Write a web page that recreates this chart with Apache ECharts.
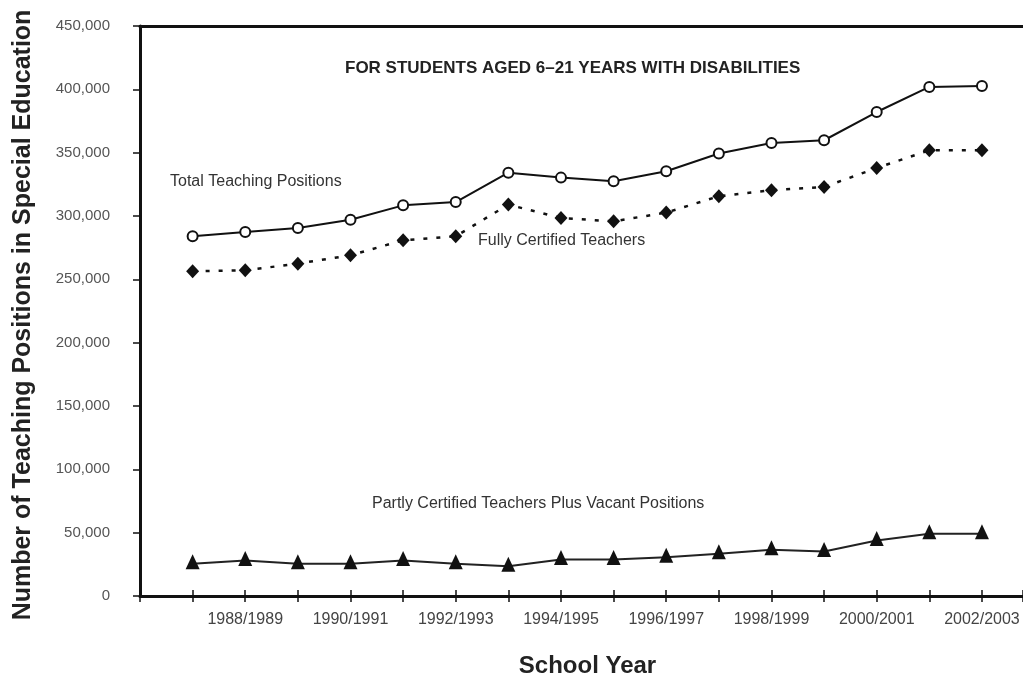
<!DOCTYPE html>
<html>
<head>
<meta charset="utf-8">
<script src="https://cdn.jsdelivr.net/npm/echarts@6/dist/echarts.min.js"></script>
<style>
html,body{margin:0;padding:0;background:#fff;}
#chart{width:1023px;height:679px;}
</style>
</head>
<body>
<div id="chart"></div>
<script>
var schoolYears = ['1987/1988','1988/1989','1989/1990','1990/1991','1991/1992','1992/1993','1993/1994','1994/1995','1995/1996','1996/1997','1997/1998','1998/1999','1999/2000','2000/2001','2001/2002','2002/2003'];
var totalPositions = [284000, 287400, 290500, 297100, 308400, 311000, 334200, 330300, 327400, 335300, 349300, 357700, 359800, 382100, 401900, 402700];
var fullyCertified = [256300, 257100, 262400, 269000, 280800, 284000, 309000, 298400, 295800, 302700, 315600, 320300, 322900, 337900, 351900, 351900];
var partlyVacant = [25400, 28000, 25400, 25400, 28000, 25400, 23500, 28800, 28800, 30600, 33300, 36500, 35200, 43800, 49100, 49100];
var yTicks = [0, 50000, 100000, 150000, 200000, 250000, 300000, 350000, 400000, 450000];

function toPts(arr){ return arr.map(function(v,i){ return [i+1, v]; }); }

var chart = echarts.init(document.getElementById('chart'), null, {renderer:'canvas'});
var FONT = 'Liberation Sans, Arial, sans-serif';
var xMax = 16.78;

chart.setOption({
  animation: false,
  backgroundColor: '#fff',
  grid: {left: 140, right: 0, top: 26, bottom: 83, containLabel: false, outerBoundsMode: 'none'},
  xAxis: [
    {
      type: 'value', position: 'bottom', min: 0, max: xMax, interval: 1,
      splitLine: {show: false},
      axisLine: {show: true, onZero: false, lineStyle: {color: '#111', width: 3}},
      axisTick: {show: true, length: 6, lineStyle: {color: '#111', width: 1.5}},
      axisLabel: {
        margin: 16, color: '#444', fontFamily: FONT, fontSize: 16,
        formatter: function(v){
          if (Math.abs(v - Math.round(v)) > 1e-6) return '';
          var i = Math.round(v);
          if (i >= 2 && i % 2 === 0 && i <= schoolYears.length) return schoolYears[i-1];
          return '';
        }
      },
      name: 'School Year', nameLocation: 'middle', nameGap: 58,
      nameTextStyle: {fontFamily: FONT, fontSize: 24, fontWeight: 'bold', color: '#222', padding: [0, 0, 0, 12]}
    },
    {
      type: 'value', position: 'top', min: 0, max: xMax, interval: 1,
      splitLine: {show: false},
      axisLine: {show: true, onZero: false, lineStyle: {color: '#111', width: 3}},
      axisTick: {show: false}, axisLabel: {show: false}
    },
    {
      type: 'value', position: 'bottom', offset: 0, min: 0, max: xMax, interval: 1,
      splitLine: {show: false},
      axisLine: {show: false, onZero: false},
      axisTick: {show: true, inside: true, length: 6, lineStyle: {color: '#111', width: 1.5}},
      axisLabel: {show: false}
    }
  ],
  yAxis: {
    type: 'value', min: 0, max: 450000, interval: 50000,
    splitLine: {show: false},
    axisLine: {show: true, lineStyle: {color: '#111', width: 3}},
    axisTick: {show: true, length: 7, lineStyle: {color: '#111', width: 1.5}},
    axisLabel: {
      margin: 30, color: '#555', fontFamily: FONT, fontSize: 15,
      formatter: function(v){ return v === 0 ? '0' : v.toLocaleString('en-US'); }
    },
    name: 'Number of Teaching Positions in Special Education',
    nameLocation: 'middle', nameGap: 104, nameRotate: 90,
    nameTextStyle: {fontFamily: FONT, fontSize: 25, fontWeight: 'bold', color: '#222', padding: [0, 8, 0, 0]}
  },
  series: [
    {
      name: 'Total Teaching Positions', type: 'line', data: toPts(totalPositions),
      symbol: 'circle', symbolSize: 10,
      lineStyle: {color: '#111', width: 2},
      itemStyle: {color: '#fff', borderColor: '#111', borderWidth: 2},
      z: 3
    },
    {
      name: 'Fully Certified Teachers', type: 'line', data: toPts(fullyCertified),
      symbol: 'diamond', symbolSize: [13, 14],
      lineStyle: {color: '#111', width: 2.5, type: [4, 9]},
      itemStyle: {color: '#111'},
      z: 3
    },
    {
      name: 'Partly Certified Teachers Plus Vacant Positions', type: 'line', data: toPts(partlyVacant),
      symbol: 'triangle', symbolSize: [14, 15], symbolOffset: [0, -2],
      lineStyle: {color: '#222', width: 2},
      itemStyle: {color: '#111'},
      z: 3
    }
  ],
  graphic: [
    {type: 'text', left: 345, top: 60, z: 10,
     style: {text: 'FOR STUDENTS AGED 6\u201321 YEARS WITH DISABILITIES', font: 'bold 17px ' + FONT, fill: '#222'}},
    {type: 'text', left: 170, top: 174, z: 10,
     style: {text: 'Total Teaching Positions', font: '16px ' + FONT, fill: '#333'}},
    {type: 'text', left: 478, top: 233, z: 10,
     style: {text: 'Fully Certified Teachers', font: '16px ' + FONT, fill: '#333'}},
    {type: 'text', left: 372, top: 496, z: 10,
     style: {text: 'Partly Certified Teachers Plus Vacant Positions', font: '16px ' + FONT, fill: '#333'}}
  ]
});
</script>
</body>
</html>
